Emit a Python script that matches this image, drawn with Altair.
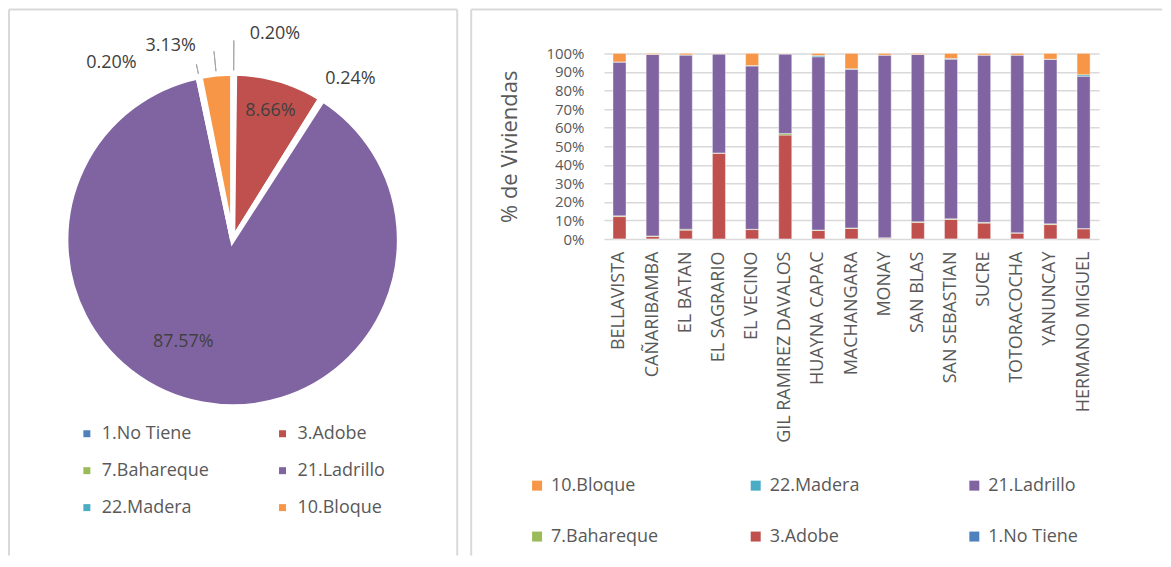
import altair as alt
import pandas as pd

# ---------- data ----------
pie_cats = ["1.No Tiene", "3.Adobe", "7.Bahareque", "21.Ladrillo", "22.Madera", "10.Bloque"]
pie_vals = [0.20, 8.66, 0.24, 87.57, 0.20, 3.13]
pie_colors = ["#4F81BD", "#C0504D", "#9BBB59", "#8064A2", "#4BACC6", "#F79646"]

parishes = ["BELLAVISTA", "CAÑARIBAMBA", "EL BATAN", "EL SAGRARIO", "EL VECINO",
            "GIL RAMIREZ DAVALOS", "HUAYNA CAPAC", "MACHANGARA", "MONAY", "SAN BLAS",
            "SAN SEBASTIAN", "SUCRE", "TOTORACOCHA", "YANUNCAY", "HERMANO MIGUEL"]
no_tiene  = [0.1, 0.1, 0.1, 0.1, 0.1, 0.1, 0.1, 0.1, 0.1, 0.1, 0.1, 0.1, 0.1, 0.1, 0.1]
adobe     = [12.0, 1.3, 4.7, 46.1, 5.0, 55.9, 4.5, 5.6, 0.4, 8.8, 10.5, 8.5, 3.1, 7.7, 5.4]
bahareque = [0.4, 0.3, 0.5, 0.2, 0.2, 0.9, 0.3, 0.3, 0.2, 0.4, 0.3, 0.4, 0.2, 0.4, 0.2]
ladrillo  = [82.8, 97.8, 93.8, 53.3, 87.9, 42.8, 93.3, 85.4, 98.4, 90.2, 86.0, 90.1, 95.7, 88.6, 82.0]
madera    = [0.1, 0.0, 0.1, 0.1, 0.3, 0.1, 0.7, 0.3, 0.0, 0.0, 0.4, 0.0, 0.0, 0.1, 0.8]
bloque    = [4.6, 0.5, 0.8, 0.2, 6.5, 0.2, 1.1, 8.3, 0.9, 0.5, 2.7, 0.9, 0.9, 3.1, 11.5]

bar_legend_order = ["10.Bloque", "22.Madera", "21.Ladrillo", "7.Bahareque", "3.Adobe", "1.No Tiene"]
bar_legend_colors = ["#F79646", "#4BACC6", "#8064A2", "#9BBB59", "#C0504D", "#4F81BD"]
y_ticks = [0, 10, 20, 30, 40, 50, 60, 70, 80, 90, 100]

FONT = "Open Sans"
TXT = "#595959"
BORDER = "#d9d9d9"
LEADER = "#a6a6a6"

# shared vertical frame (relative to the bar plot's top edge)
BW, BH = 496, 186
RT, RB = -44, 503

# ---------- pie ----------
pie_df = pd.DataFrame({"cat": pie_cats, "value": pie_vals, "idx": list(range(len(pie_cats)))})
pie_df["label"] = [f"{v:.2f}%" for v in pie_vals]

CX, CY = 224, 187
R = 167
theta = alt.Theta("value:Q", stack=True)
order = alt.Order("idx:Q")

arcs = alt.Chart(pie_df).mark_arc(outerRadius=R, stroke="white", strokeWidth=5).encode(
    theta=theta, order=order,
    x=alt.value(CX), y=alt.value(CY),
    color=alt.Color("cat:N",
                    scale=alt.Scale(domain=pie_cats, range=pie_colors),
                    legend=alt.Legend(orient="none", legendX=69, legendY=372, columns=2,
                                      direction="horizontal",
                                      gridAlign="all", columnPadding=64, rowPadding=19,
                                      symbolType="square", symbolSize=49, symbolStrokeWidth=0,
                                      labelFontSize=18, labelFont=FONT, labelColor=TXT,
                                      labelOffset=6, title=None)),
)

# per-label (radius, dx, dy)
label_pos = {
    "1.No Tiene": (206, 41, 0),
    "3.Adobe": (135, 0, 0),
    "7.Bahareque": (200, 11, 8),
    "21.Ladrillo": (113, -29, -9),
    "22.Madera": (215, -78, 33),
    "10.Bloque": (204, -42, 9),
}
label_layers = []
for cat, (r, dx, dy) in label_pos.items():
    label_layers.append(
        alt.Chart(pie_df).mark_text(radius=r, dx=dx, dy=dy, fontSize=18, font=FONT,
                                    color="#404040", align="center", baseline="middle").encode(
            theta=theta, order=order, x=alt.value(CX), y=alt.value(CY),
            text=alt.condition(f"datum.cat == '{cat}'", "label:N", alt.value("")),
        )
    )

# radial leader lines for the small outer labels
leader_len = {"1.No Tiene": 200, "22.Madera": 180, "10.Bloque": 190}
leader_layers = []
for cat, r2 in leader_len.items():
    leader_layers.append(
        alt.Chart(pie_df).transform_window(
            cum="sum(value)", sort=[alt.SortField("idx")]
        ).transform_calculate(
            mid="(datum.cum - datum.value / 2) / 100 * 2 * PI"
        ).transform_filter(f"datum.cat == '{cat}'").mark_arc(
            stroke=LEADER, strokeWidth=1, fillOpacity=0
        ).encode(
            theta=alt.Theta("mid:Q", scale=None), theta2="mid:Q",
            radius=alt.value(R + 3), radius2=alt.value(r2),
            x=alt.value(CX), y=alt.value(CY),
        )
    )

one = pd.DataFrame({"k": [0]})
PW = 449
left_border = alt.Chart(one).mark_rule(color=BORDER, strokeWidth=2).encode(
    x=alt.value(0), y=alt.value(RT), y2=alt.value(RB))
top_border = alt.Chart(one).mark_rule(color=BORDER, strokeWidth=2).encode(
    x=alt.value(0), x2=alt.value(PW), y=alt.value(RT))
right_border = alt.Chart(one).mark_rule(color=BORDER, strokeWidth=2).encode(
    x=alt.value(PW), y=alt.value(RT), y2=alt.value(RB))

pie = alt.layer(arcs, *leader_layers, *label_layers, left_border, top_border, right_border).properties(
    width=PW, height=BH)

# ---------- stacked bars ----------
series = {"1.No Tiene": no_tiene, "3.Adobe": adobe, "7.Bahareque": bahareque,
          "21.Ladrillo": ladrillo, "22.Madera": madera, "10.Bloque": bloque}
rows = []
for si, (name, vals) in enumerate(series.items()):
    for p, v in zip(parishes, vals):
        rows.append({"parroquia": p, "material": name, "pct": v, "stack_i": si})
bar_df = pd.DataFrame(rows)

bars = alt.Chart(bar_df).mark_bar(stroke="white", strokeWidth=0.4).encode(
    x=alt.X("parroquia:N", sort=parishes,
            scale=alt.Scale(paddingInner=0.607, paddingOuter=0.272),
            axis=alt.Axis(title=None, labelAngle=-90, labelAlign="right", labelBaseline="middle",
                          labelFontSize=18, labelFont=FONT, labelColor=TXT, labelPadding=12,
                          ticks=False, domain=False, grid=False, labelLimit=300)),
    y=alt.Y("pct:Q", stack="zero", scale=alt.Scale(domain=[0, 100], nice=False),
            axis=alt.Axis(title="% de Viviendas", values=y_ticks,
                          labelExpr="datum.value + '%'",
                          labelFontSize=15, labelFont=FONT, labelColor=TXT, labelPadding=20,
                          titleFontSize=22, titleFont=FONT, titleColor=TXT, titleFontWeight="normal",
                          titlePadding=24, ticks=False, domain=False,
                          gridColor=BORDER, gridWidth=1.5)),
    order=alt.Order("stack_i:Q"),
    color=alt.Color("material:N",
                    scale=alt.Scale(domain=bar_legend_order, range=bar_legend_colors),
                    legend=alt.Legend(orient="none", legendX=-76, legendY=424, columns=3,
                                      direction="horizontal",
                                      gridAlign="all", columnPadding=88, rowPadding=33,
                                      symbolType="square", symbolSize=100, symbolStrokeWidth=0,
                                      labelFontSize=18, labelFont=FONT, labelColor=TXT,
                                      labelOffset=5, title=None)),
)

RL, RR = -133, 559
r_left = alt.Chart(one).mark_rule(color=BORDER, strokeWidth=2).encode(
    x=alt.value(RL), y=alt.value(RT), y2=alt.value(RB))
r_top = alt.Chart(one).mark_rule(color=BORDER, strokeWidth=2).encode(
    x=alt.value(RL), x2=alt.value(RR), y=alt.value(RT))

barchart = alt.layer(bars, r_left, r_top).properties(width=BW, height=BH)

chart = (alt.hconcat(pie, barchart, spacing=12)
         .resolve_scale(color="independent")
         .resolve_legend(color="independent")
         .properties(padding=0)
         .configure(font=FONT)
         .configure_view(stroke=None, strokeWidth=0))

chart.save("out.html", embed_options={"renderer": "svg", "actions": False})
